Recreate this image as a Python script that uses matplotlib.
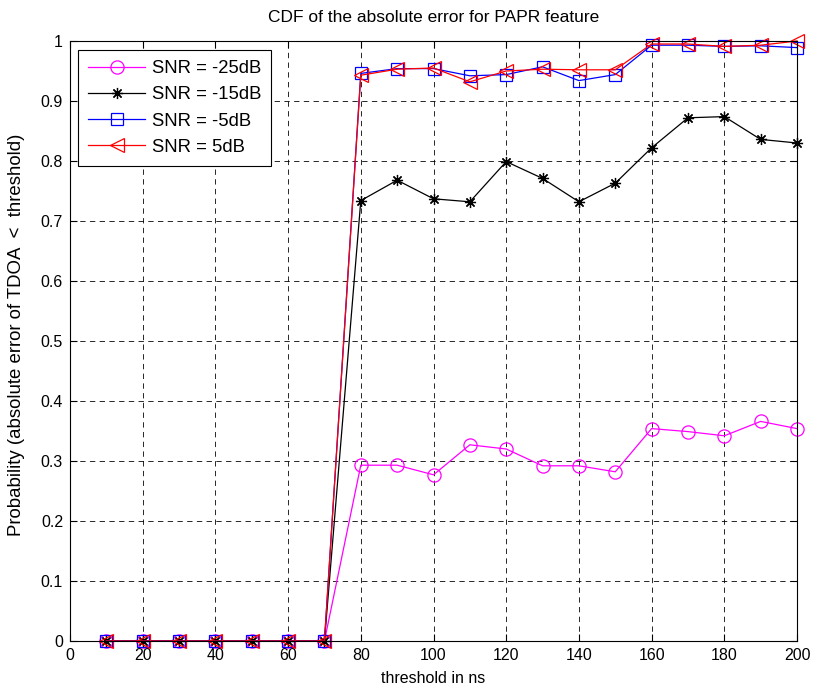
import matplotlib
matplotlib.use("Agg")
import matplotlib.pyplot as plt
import numpy as np

plt.rcParams['font.family'] = ['Liberation Sans', 'DejaVu Sans']

threshold_ns = [10, 20, 30, 40, 50, 60, 70, 80, 90, 100, 110, 120, 130, 140,
                150, 160, 170, 180, 190, 200]

snr_m25 = [0, 0, 0, 0, 0, 0, 0, 0.293, 0.293, 0.277, 0.327, 0.320, 0.292,
           0.292, 0.282, 0.354, 0.349, 0.342, 0.366, 0.354]
snr_m15 = [0, 0, 0, 0, 0, 0, 0, 0.734, 0.768, 0.737, 0.732, 0.799, 0.771,
           0.732, 0.763, 0.822, 0.872, 0.874, 0.836, 0.830]
snr_m5 = [0, 0, 0, 0, 0, 0, 0, 0.946, 0.954, 0.954, 0.942, 0.944, 0.957,
          0.934, 0.944, 0.993, 0.993, 0.991, 0.992, 0.989]
snr_p5 = [0, 0, 0, 0, 0, 0, 0, 0.943, 0.953, 0.955, 0.932, 0.950, 0.953,
          0.952, 0.952, 0.995, 0.995, 0.991, 0.993, 1.000]

series_labels = ['SNR = -25dB', 'SNR = -15dB', 'SNR = -5dB', 'SNR = 5dB']

x_ticks = list(range(0, 201, 20))
y_ticks = [0, 0.1, 0.2, 0.3, 0.4, 0.5, 0.6, 0.7, 0.8, 0.9, 1]
y_tick_labels = ['0', '0.1', '0.2', '0.3', '0.4', '0.5', '0.6', '0.7', '0.8', '0.9', '1']

fig = plt.figure(figsize=(8.13, 6.89), dpi=100)
ax = fig.add_axes([70 / 813, 1 - 641 / 689, 727 / 813, 600 / 689])

# 8-spoke asterisk marker
asterisk = (8, 2, 0)

lw = 0.9
ax.plot(threshold_ns, snr_m25, color='#ff00ff', marker='o', ms=9.5, mfc='none',
        mew=lw, lw=lw, label=series_labels[0], clip_on=False)
ax.plot(threshold_ns, snr_m15, color='black', marker=asterisk, ms=8, mfc='none',
        mew=lw, lw=lw, label=series_labels[1], clip_on=False)
ax.plot(threshold_ns, snr_m5, color='#0000ff', marker='s', ms=8.5, mfc='none',
        mew=lw, lw=lw, label=series_labels[2], clip_on=False)
ax.plot(threshold_ns, snr_p5, color='#ff0000', marker='<', ms=10.5, mfc='none',
        mew=lw, lw=lw, label=series_labels[3], clip_on=False)

ax.set_xlim(0, 200)
ax.set_ylim(0, 1)
ax.set_xticks(x_ticks)
ax.set_yticks(y_ticks)
ax.set_yticklabels(y_tick_labels)
ax.tick_params(direction='in', length=5, width=0.8, labelsize=11.5,
               top=True, right=True, pad=5, colors='black')
ax.grid(True, color='black', linestyle=(0, (5.5, 4.5)), linewidth=0.7, alpha=0.85)
for s in ax.spines.values():
    s.set_linewidth(0.8)

ax.set_title('CDF of the absolute error for PAPR feature', fontsize=12.5, pad=14)
ax.set_xlabel('threshold in ns', fontsize=11.5, labelpad=6)
ax.set_ylabel('Probability (absolute error of TDOA  <  threshold)', fontsize=13.4)
ax.yaxis.set_label_coords(-0.062, 0.51)

leg = ax.legend(loc='upper left', bbox_to_anchor=(8 / 727, 1 - 9 / 600),
                fontsize=13.3, frameon=True, fancybox=False, edgecolor='black',
                framealpha=1, handlelength=3.1, handletextpad=0.35,
                borderpad=0.55, labelspacing=0.5, borderaxespad=0)
leg.get_frame().set_linewidth(0.8)

fig.savefig('out.png', dpi=100)
